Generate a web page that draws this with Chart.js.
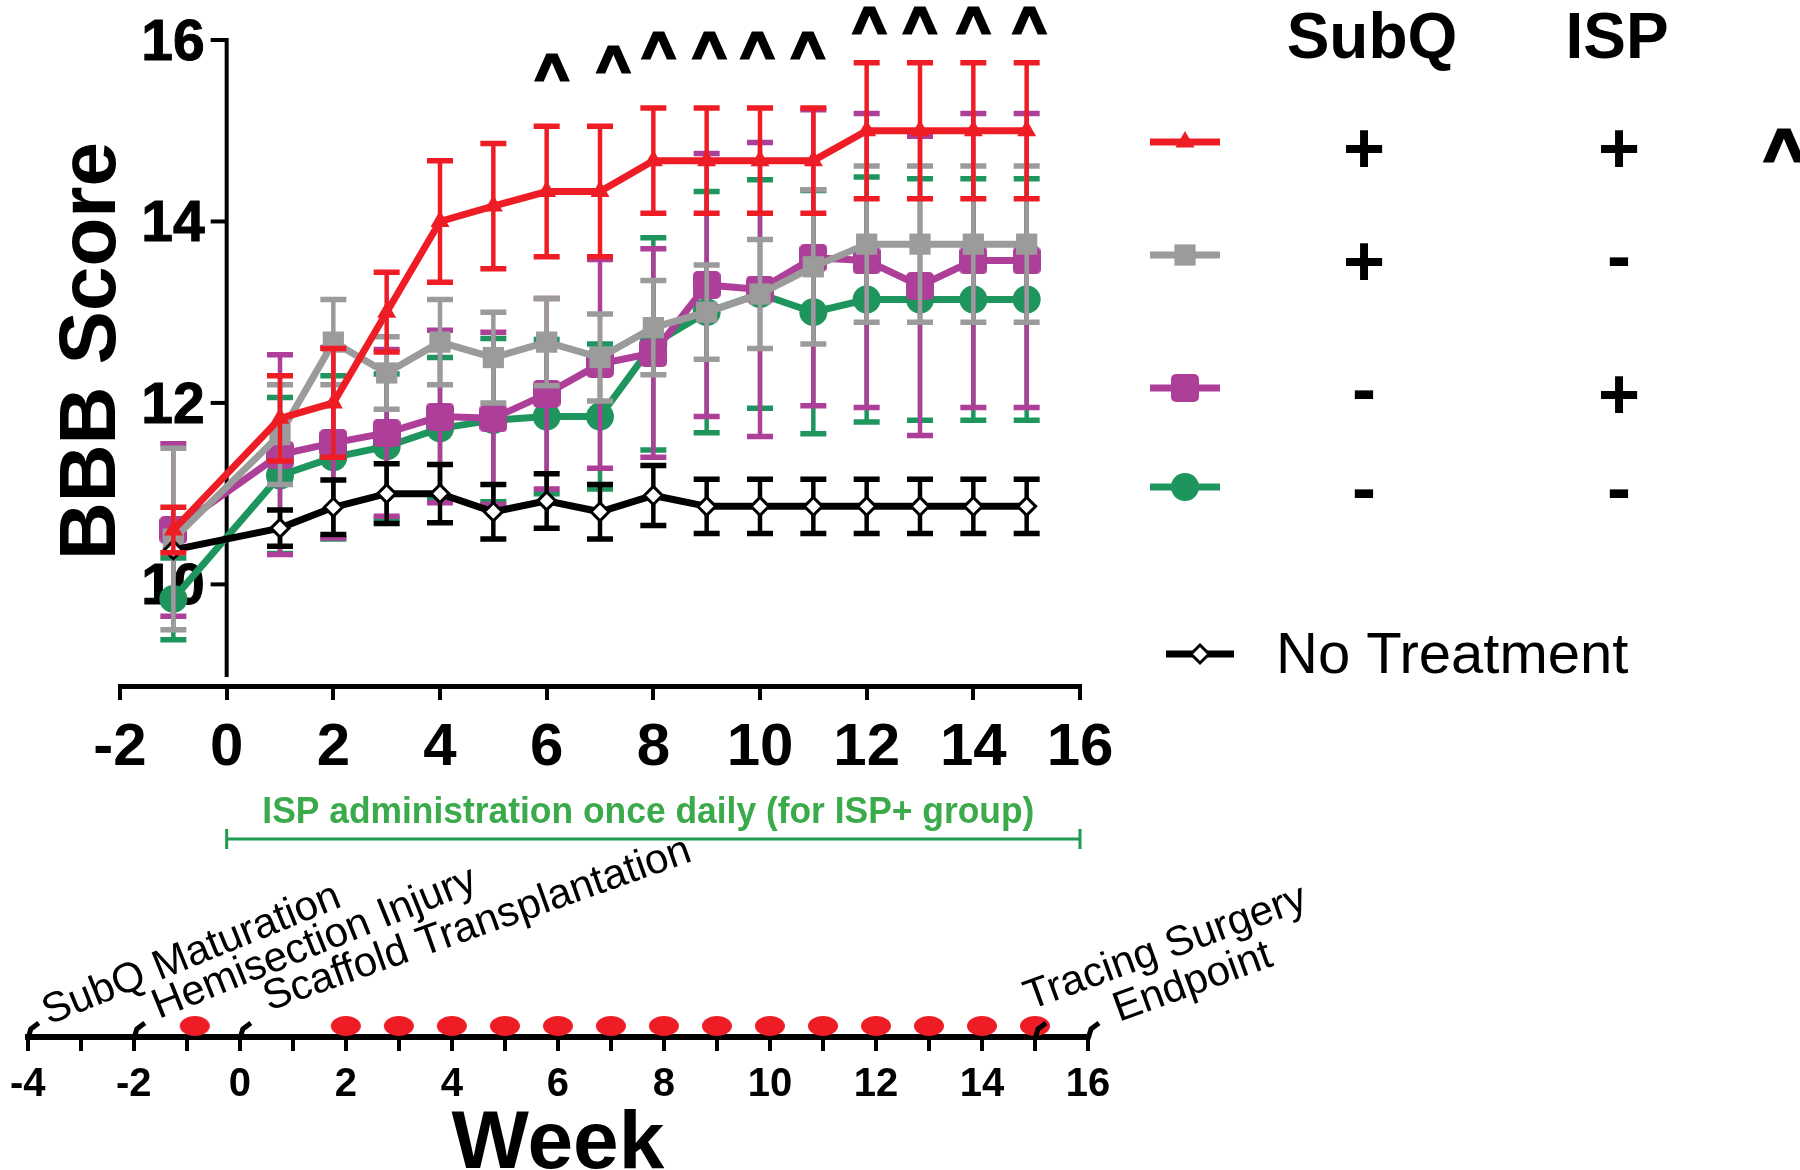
<!DOCTYPE html>
<html>
<head>
<meta charset="utf-8">
<script src="https://cdn.jsdelivr.net/npm/chart.js@4.4.1/dist/chart.umd.min.js"></script>
<style>
  body { margin: 0; background: #fff; }
  #wrap { position: relative; width: 1800px; height: 1170px; }
  #wrap canvas { position: absolute; left: 0; top: 0; }
</style>
</head>
<body>
<div id="wrap">
  <canvas id="timeline" width="1800" height="1170"></canvas>
  <canvas id="bbb" width="1800" height="1170"></canvas>
</div>
<script>
// ---- data ----
const weeks = [-1, 1, 2, 3, 4, 5, 6, 7, 8, 9, 10, 11, 12, 13, 14, 15];

const redMean    = [10.6, 11.83, 12.0, 13.0, 14.0, 14.17, 14.33, 14.33, 14.67, 14.67, 14.67, 14.67, 15.0, 15.0, 15.0, 15.0];
const redSem     = [0.25, 0.47, 0.6, 0.44, 0.67, 0.69, 0.72, 0.72, 0.58, 0.58, 0.58, 0.58, 0.75, 0.75, 0.75, 0.75];
const grayMean   = [10.5, 11.65, 12.67, 12.33, 12.67, 12.5, 12.67, 12.5, 12.83, 13.0, 13.2, 13.5, 13.75, 13.75, 13.75, 13.75];
const graySem    = [1.0, 0.55, 0.47, 0.4, 0.47, 0.5, 0.48, 0.48, 0.52, 0.52, 0.6, 0.85, 0.86, 0.86, 0.86, 0.86];
const purpleMean = [10.6, 11.43, 11.56, 11.67, 11.85, 11.83, 12.1, 12.43, 12.55, 13.3, 13.25, 13.6, 13.57, 13.29, 13.57, 13.57];
const purpleSem  = [0.95, 1.1, 1.05, 0.92, 0.95, 0.95, 1.05, 1.15, 1.15, 1.45, 1.62, 1.63, 1.62, 1.65, 1.62, 1.62];
const greenMean  = [9.84, 11.2, 11.4, 11.52, 11.72, 11.81, 11.85, 11.85, 12.65, 13.0, 13.2, 13.0, 13.14, 13.14, 13.14, 13.14];
const greenSem   = [0.45, 0.86, 0.9, 0.8, 0.78, 0.9, 0.85, 0.8, 1.17, 1.33, 1.26, 1.34, 1.35, 1.33, 1.33, 1.33];
const noTxMean   = [10.38, 10.62, 10.85, 11.0, 11.0, 10.8, 10.92, 10.8, 10.98, 10.86, 10.86, 10.86, 10.86, 10.86, 10.86, 10.86];
const noTxSem    = [0, 0.2, 0.3, 0.33, 0.32, 0.3, 0.3, 0.3, 0.33, 0.3, 0.3, 0.3, 0.3, 0.3, 0.3, 0.3];

const yTicks = [10, 12, 14, 16];

// "^" significance marks: week and height
const sigWeeks  = [6.1, 7.25, 8.1, 9.05, 9.95, 10.9, 12.05, 13, 14, 15.05];
const sigLevels = [15.7, 15.78, 15.94, 15.94, 15.94, 15.94, 16.22, 16.22, 16.22, 16.22];

const legendHeads = ['SubQ', 'ISP'];
const legendSubQ  = ['+', '+', '-', '-'];
const legendISP   = ['+', '-', '+', '-'];

const ispText = 'ISP administration once daily (for ISP+ group)';
const ispRange = [0, 16];

// timeline
const scoringWeeks = [-0.85, 2, 3, 4, 5, 6, 7, 8, 9, 10, 11, 12, 13, 14, 15];
const eventWeeks  = [-4, -2, 0, 15, 16];
const eventLabels = ['SubQ Maturation', 'Hemisection Injury', 'Scaffold Transplantation', 'Tracing Surgery', 'Endpoint'];

// ---- styles ----
const FONT = "'Liberation Sans', Arial, Helvetica, sans-serif";
const RED = '#ee1d25', GRAY = '#9b9b9b', PURPLE = '#ad3f98', GREEN = '#1f955e', BLACK = '#000000';

function roundSquare(color, side, corner) {
  const c = document.createElement('canvas');
  c.width = side; c.height = side;
  const g = c.getContext('2d');
  g.fillStyle = color;
  g.beginPath();
  if (g.roundRect) g.roundRect(0, 0, side, side, corner); else g.rect(0, 0, side, side);
  g.fill();
  return c;
}

function dotImage() {
  // ellipse sitting just above the centre so it rests on the timeline
  const c = document.createElement('canvas');
  c.width = 32; c.height = 50;
  const g = c.getContext('2d');
  g.fillStyle = '#ee1d25';
  g.beginPath();
  g.ellipse(16, 14, 15, 10, 0, 0, Math.PI * 2);
  g.fill();
  return c;
}

const purpleSquare = roundSquare(PURPLE, 28, 5);

const groups = [
  { label: 'SubQ+ ISP+', mean: redMean, sem: redSem, color: RED, style: 'triangle', r: 11 },
  { label: 'No Treatment', mean: noTxMean, sem: noTxSem, color: BLACK, style: 'rectRot', r: 9, hollow: true },
  { label: 'SubQ+ ISP-', mean: grayMean, sem: graySem, color: GRAY, style: 'rect', r: 15 },
  { label: 'SubQ- ISP+', mean: purpleMean, sem: purpleSem, color: PURPLE, style: purpleSquare, r: 14 },
  { label: 'SubQ- ISP-', mean: greenMean, sem: greenSem, color: GREEN, style: 'circle', r: 14 }
];

function centeredText(ctx, text, x, cy, bold) {
  const m = ctx.measureText(text);
  const y = cy + (m.actualBoundingBoxAscent - m.actualBoundingBoxDescent) / 2;
  if (bold) { ctx.lineWidth = bold; ctx.strokeStyle = ctx.fillStyle; ctx.lineJoin = 'miter'; ctx.strokeText(text, x, y); }
  ctx.fillText(text, x, y);
}

const errorBars = {
  id: 'errorBars',
  beforeDatasetDraw(chart, args) {
    const ds = chart.data.datasets[args.index];
    if (!ds.sem) return;
    const xs = chart.scales.x, ys = chart.scales.y, ctx = chart.ctx;
    ctx.save();
    ctx.strokeStyle = ds.borderColor;
    ds.data.forEach((p, i) => {
      const e = ds.sem[i];
      if (!e) return;
      const px = xs.getPixelForValue(p.x);
      const top = ys.getPixelForValue(p.y + e), bot = ys.getPixelForValue(p.y - e);
      ctx.lineWidth = 4.5;
      ctx.beginPath();
      ctx.moveTo(px, top); ctx.lineTo(px, bot);
      ctx.stroke();
      ctx.lineWidth = 5.5;
      ctx.beginPath();
      ctx.moveTo(px - 13, top); ctx.lineTo(px + 13, top);
      ctx.moveTo(px - 13, bot); ctx.lineTo(px + 13, bot);
      ctx.stroke();
    });
    ctx.restore();
  }
};

// y axis sits on week 0, drawn from the y scale
const yAxisAtZero = {
  id: 'yAxisAtZero',
  beforeDatasetsDraw(chart) {
    const xs = chart.scales.x, ys = chart.scales.y, ctx = chart.ctx;
    const x0 = xs.getPixelForValue(0);
    ctx.save();
    ctx.strokeStyle = '#000';
    ctx.lineWidth = 4;
    ctx.beginPath();
    ctx.moveTo(x0, ys.getPixelForValue(16) - 2);
    ctx.lineTo(x0, chart.chartArea.bottom - 9);
    ctx.stroke();
    ctx.fillStyle = '#000';
    ctx.font = 'bold 57px ' + FONT;
    ctx.textAlign = 'right';
    yTicks.forEach(v => {
      const py = ys.getPixelForValue(v);
      ctx.lineWidth = 4;
      ctx.beginPath();
      ctx.moveTo(x0 - 16, py); ctx.lineTo(x0, py);
      ctx.stroke();
      centeredText(ctx, String(v), x0 - 22, py, 1);
    });
    ctx.translate(86, 351);
    ctx.rotate(-Math.PI / 2);
    ctx.textAlign = 'center';
    ctx.font = 'bold 80px ' + FONT;
    ctx.fillText('BBB Score', 0, 29);
    ctx.restore();
  }
};

function drawSample(ctx, ds, x1, x2, y) {
  ctx.save();
  ctx.strokeStyle = ds.borderColor;
  ctx.lineWidth = 7;
  ctx.beginPath(); ctx.moveTo(x1, y); ctx.lineTo(x2, y); ctx.stroke();
  ctx.fillStyle = ds.pointBackgroundColor;
  ctx.strokeStyle = ds.pointBorderColor;
  ctx.lineWidth = ds.pointBorderWidth;
  Chart.helpers.drawPoint(ctx, { pointStyle: ds.pointStyle, radius: ds.pointRadius, rotation: 0, borderWidth: ds.pointBorderWidth }, (x1 + x2) / 2, y);
  ctx.restore();
}

const annotations = {
  id: 'annotations',
  afterDraw(chart) {
    const xs = chart.scales.x, ys = chart.scales.y, ctx = chart.ctx;
    const sets = chart.data.datasets;
    ctx.save();
    ctx.fillStyle = '#000';
    ctx.textAlign = 'center';

    // significance carets
    ctx.font = 'bold 58px ' + FONT;
    sigWeeks.forEach((w, i) => centeredText(ctx, '^', xs.getPixelForValue(w), ys.getPixelForValue(sigLevels[i]), 3));

    // legend table
    ctx.font = 'bold 64px ' + FONT;
    ctx.fillText(legendHeads[0], 1372, 58);
    ctx.fillText(legendHeads[1], 1617, 58);
    const rowIdx = [0, 2, 3, 4];
    const rowY = [142, 255, 388, 487];
    rowIdx.forEach((di, r) => {
      drawSample(ctx, sets[di], 1150, 1220, rowY[r]);
      ctx.fillStyle = '#000';
      ctx.textAlign = 'center';
      ctx.font = 'bold 72px ' + FONT;
      centeredText(ctx, legendSubQ[r], 1364, rowY[r] + 6);
      centeredText(ctx, legendISP[r], 1619, rowY[r] + 6);
    });
    ctx.font = 'bold 70px ' + FONT;
    centeredText(ctx, '^', 1784, 145, 3);
    drawSample(ctx, sets[1], 1166, 1234, 654);
    ctx.fillStyle = '#000';
    ctx.textAlign = 'left';
    ctx.font = '58px ' + FONT;
    ctx.fillText(sets[1].label, 1276, 673);

    // ISP administration bracket
    const xa = xs.getPixelForValue(ispRange[0]), xb = xs.getPixelForValue(ispRange[1]);
    ctx.strokeStyle = '#1f9a50';
    ctx.lineWidth = 3;
    ctx.beginPath();
    ctx.moveTo(xa, 839); ctx.lineTo(xb, 839);
    ctx.moveTo(xa, 829); ctx.lineTo(xa, 849);
    ctx.moveTo(xb, 829); ctx.lineTo(xb, 849);
    ctx.stroke();
    ctx.fillStyle = '#3aaa4a';
    ctx.textAlign = 'center';
    ctx.font = "bold 37px 'Liberation Sans Narrow', " + FONT;
    const mid = xs.getPixelForValue((ispRange[0] + ispRange[1]) / 2);
    const m = ctx.measureText(ispText);
    ctx.fillText(ispText, mid - 5, 813 + (m.actualBoundingBoxAscent - m.actualBoundingBoxDescent) / 2, 772);
    ctx.restore();
  }
};

new Chart(document.getElementById('bbb'), {
  type: 'line',
  data: {
    datasets: groups.map(g => ({
      label: g.label,
      data: weeks.map((w, i) => ({ x: w, y: g.mean[i] })),
      sem: g.sem,
      borderColor: g.color,
      backgroundColor: g.hollow ? '#ffffff' : g.color,
      pointBackgroundColor: g.hollow ? '#ffffff' : g.color,
      pointBorderColor: g.color,
      pointBorderWidth: g.hollow ? 3 : 0,
      pointStyle: g.style,
      pointRadius: g.r,
      borderWidth: 7,
      tension: 0,
      clip: false
    }))
  },
  options: {
    responsive: false,
    animation: false,
    events: [],
    layout: { padding: { left: 120, right: 720, top: 40, bottom: 0 } },
    plugins: { legend: { display: false }, tooltip: { enabled: false } },
    scales: {
      x: {
        type: 'linear', min: -2, max: 16,
        afterFit: s => { s.height = 484; },
        ticks: { stepSize: 2, color: '#000', padding: 12, maxRotation: 0, font: { family: FONT, size: 60, weight: 'bold' } },
        grid: { drawOnChartArea: false, color: '#000', lineWidth: 4, tickLength: 14 },
        border: { color: '#000', width: 5 }
      },
      y: { display: false, min: 8.88, max: 16 }
    }
  },
  plugins: [yAxisAtZero, errorBars, annotations]
});

// ---- timeline chart ----
const eventMarks = {
  id: 'eventMarks',
  afterDraw(chart) {
    const xs = chart.scales.x, ctx = chart.ctx;
    const lineY = chart.chartArea.bottom;
    // label offset from its marker [dx, dy] and slant in degrees
    const place = [[21, 12, 22], [25, 18, 22], [29, 26, 19.5], [-5, 27, 20], [31, 15, 20]];
    ctx.save();
    ctx.strokeStyle = '#000';
    ctx.fillStyle = '#000';
    eventWeeks.forEach((w, i) => {
      const x = xs.getPixelForValue(w);
      ctx.lineWidth = 5;
      ctx.lineCap = 'butt';
      ctx.beginPath();
      ctx.moveTo(x, lineY + 2);
      ctx.lineTo(x + 3, lineY - 8);
      ctx.lineTo(x + 11, lineY - 14);
      ctx.stroke();
      ctx.save();
      ctx.translate(x + place[i][0], lineY - place[i][1]);
      ctx.rotate(-place[i][2] * Math.PI / 180);
      ctx.font = '42px ' + FONT;
      ctx.textAlign = 'left';
      ctx.fillText(eventLabels[i], 0, 0);
      ctx.restore();
    });
    ctx.restore();
  }
};

new Chart(document.getElementById('timeline'), {
  type: 'scatter',
  data: {
    datasets: [{
      data: scoringWeeks.map(w => ({ x: w, y: 0 })),
      pointStyle: dotImage(),
      pointRadius: 14,
      clip: false
    }]
  },
  options: {
    responsive: false,
    animation: false,
    events: [],
    layout: { padding: { left: 21, right: 712, top: 900, bottom: 0 } },
    plugins: { legend: { display: false }, tooltip: { enabled: false } },
    scales: {
      x: {
        type: 'linear', min: -4, max: 16,
        afterFit: s => { s.height = 133; },
        ticks: {
          stepSize: 1, autoSkip: false, maxRotation: 0, padding: 10, color: '#000',
          font: { family: FONT, size: 40, weight: 'bold' },
          callback: v => (v % 2 === 0 ? String(v) : '')
        },
        grid: { drawOnChartArea: false, color: '#000', lineWidth: 4, tickLength: 14 },
        border: { color: '#000', width: 6 },
        title: { display: true, text: 'Week', color: '#000', padding: 0, font: { family: FONT, size: 82, weight: 'bold', lineHeight: 0.6 } }
      },
      y: { display: false, min: 0, max: 1 }
    }
  },
  plugins: [eventMarks]
});
</script>
</body>
</html>
